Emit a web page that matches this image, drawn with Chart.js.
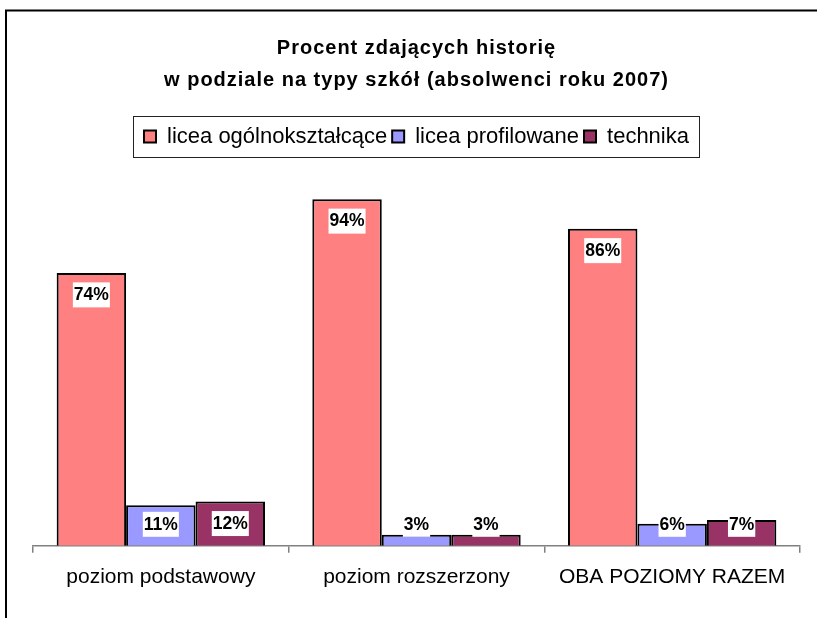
<!DOCTYPE html>
<html><head><meta charset="utf-8">
<script src="https://cdn.jsdelivr.net/npm/chart.js@4/dist/chart.umd.min.js"></script>
<style>html,body{margin:0;padding:0;background:#fff}#wrap{width:817px;height:618px;position:relative}</style>
</head><body><div id="wrap"><canvas id="c" width="817" height="618"></canvas></div>
<script>
const titleLines = ['Procent zdających historię', 'w podziale na typy szkół (absolwenci roku 2007)'];
const categories = ['poziom podstawowy', 'poziom rozszerzony', 'OBA POZIOMY RAZEM'];
const seriesNames = ['licea ogólnokształcące', 'licea profilowane', 'technika'];
const liceaOgolnoksztalcace = [74, 94, 86];
const liceaProfilowane = [11, 3, 6];
const technika = [12, 3, 7];
const seriesColors = ['#FF8080', '#9999FF', '#993366'];
const yMin = 0, yMax = 100;

const FONT = '"Liberation Sans", Arial, sans-serif';
Chart.defaults.color = '#000';
Chart.defaults.font.family = FONT;

const framePlugin = {
  id: 'frame',
  beforeDraw(chart) {
    const ctx = chart.ctx;
    ctx.save();
    ctx.fillStyle = '#fff';
    ctx.fillRect(0, 0, chart.width, chart.height);
    ctx.strokeStyle = '#000';
    ctx.lineWidth = 2;
    ctx.beginPath();
    ctx.moveTo(6, chart.height + 5);
    ctx.lineTo(6, 10.5);
    ctx.lineTo(chart.width + 5, 10.5);
    ctx.stroke();
    ctx.restore();
  },
  afterDraw(chart) {
    const hb = chart.legend && chart.legend.legendHitBoxes;
    if (!hb || !hb.length) return;
    const last = hb[hb.length - 1];
    const left = hb[0].left - 11;
    const right = last.left + last.width + 10;
    const cy = hb[0].top + hb[0].height / 2;
    const ctx = chart.ctx;
    ctx.save();
    ctx.strokeStyle = '#222';
    ctx.lineWidth = 1;
    ctx.strokeRect(Math.round(left) + 0.5, Math.round(cy - 20.5) + 0.5, Math.round(right - left), 41);
    ctx.restore();
  }
};

const valueLabels = {
  id: 'valueLabels',
  afterDatasetsDraw(chart) {
    const ctx = chart.ctx;
    ctx.save();
    ctx.font = 'bold 17.5px ' + FONT;
    ctx.textAlign = 'center';
    ctx.textBaseline = 'middle';
    chart.data.datasets.forEach((ds, di) => {
      const meta = chart.getDatasetMeta(di);
      meta.data.forEach((bar, i) => {
        const txt = ds.data[i] + '%';
        const w = ctx.measureText(txt).width + 2;
        const h = 25;
        const cy = Math.min(bar.y + 22, bar.base - 21.5);
        ctx.fillStyle = '#fff';
        ctx.fillRect(bar.x - w / 2, cy - h / 2, w, h);
        ctx.fillStyle = '#000';
        ctx.fillText(txt, bar.x, cy + 0.5);
      });
    });
    ctx.restore();
  }
};

const seriesData = [liceaOgolnoksztalcace, liceaProfilowane, technika];
const chart = new Chart(document.getElementById('c'), {
  type: 'bar',
  data: {
    labels: categories,
    datasets: seriesNames.map((name, i) => ({
      label: name,
      data: seriesData[i],
      backgroundColor: seriesColors[i],
      borderColor: '#000',
      borderWidth: 2,
      categoryPercentage: 0.815,
      barPercentage: 1.0
    }))
  },
  options: {
    responsive: false,
    animation: false,
    devicePixelRatio: 1,
    layout: { padding: { left: 33, right: 17, top: 0, bottom: 16 } },
    plugins: {
      title: {
        display: true,
        text: titleLines,
        font: { size: 20, weight: 'bold', lineHeight: 1.6, family: FONT },
        color: '#000',
        padding: { top: 32, bottom: 24.5 }
      },
      subtitle: {
        display: true,
        text: '',
        weight: 500,
        font: { size: 1, lineHeight: 1 },
        padding: { top: 0, bottom: 18.5 }
      },
      legend: {
        display: true,
        position: 'top',
        labels: {
          boxWidth: 12,
          boxHeight: 12,
          padding: 5,
          color: '#000',
          font: { size: 22, family: FONT }
        }
      },
      tooltip: { enabled: false }
    },
    scales: {
      x: {
        offset: true,
        grid: { display: true, drawOnChartArea: false, drawTicks: true, tickLength: 7, color: '#808080', lineWidth: 1.5 },
        border: { display: true, color: '#808080', width: 1.5 },
        ticks: { font: { size: 21, family: FONT }, color: '#000', padding: 12, maxRotation: 0 }
      },
      y: {
        display: false,
        min: yMin,
        max: yMax
      }
    }
  },
  plugins: [framePlugin, valueLabels]
});

const tb = chart.titleBlock;
if (tb) {
  const origDraw = tb.draw.bind(tb);
  tb.draw = function () {
    const ctx = chart.ctx;
    ctx.save();
    ctx.letterSpacing = '1px';
    origDraw();
    ctx.restore();
  };
  chart.draw();
}
</script>
</body></html>
